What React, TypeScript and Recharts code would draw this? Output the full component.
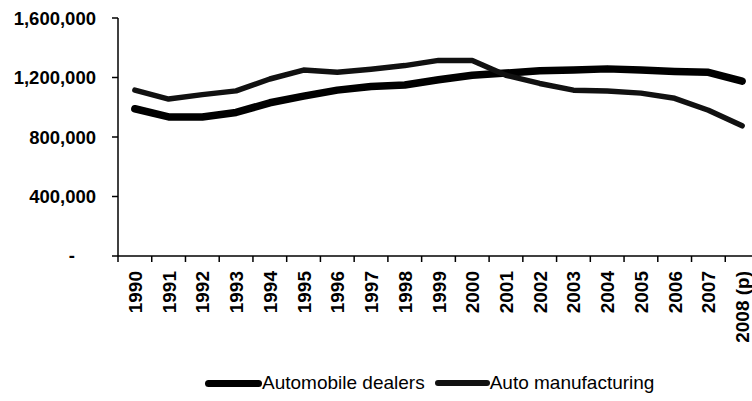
import React from "react";
import { LineChart, Line, XAxis, YAxis, Legend } from "recharts";

const years = [
  "1990", "1991", "1992", "1993", "1994", "1995", "1996", "1997", "1998", "1999",
  "2000", "2001", "2002", "2003", "2004", "2005", "2006", "2007", "2008 (p)",
];
const dealers = [
  990000, 935000, 935000, 965000, 1030000, 1075000, 1115000, 1140000, 1150000, 1185000,
  1215000, 1230000, 1245000, 1250000, 1258000, 1250000, 1240000, 1235000, 1175000,
];
const manufacturing = [
  1115000, 1055000, 1085000, 1110000, 1190000, 1250000, 1235000, 1255000, 1280000, 1315000,
  1315000, 1215000, 1160000, 1115000, 1110000, 1095000, 1060000, 980000, 875000,
];
const yTicks = [0, 400000, 800000, 1200000, 1600000];
const seriesNames = ["Automobile dealers", "Auto manufacturing"];

const data = years.map((y, i) => ({
  year: y,
  dealers: dealers[i],
  manufacturing: manufacturing[i],
}));

const FONT = "'Liberation Sans', Arial, sans-serif";
const CHART_W = 770;
const CHART_H = 401;
const MARGIN = { top: 18, right: 11, left: 0, bottom: 3 };
const Y_W = 118;
const HALF_BAND = (CHART_W - MARGIN.right - MARGIN.left - Y_W) / years.length / 2;

const fmt = (v: number) => v.toLocaleString("en-US");

const YTick = (props: any) => {
  const { x, y, payload } = props;
  const v = payload.value;
  if (v === 0) {
    return (
      <text x={x - 21} y={y} dy="0.35em" textAnchor="end" fontFamily={FONT} fontWeight="bold" fontSize={18.5} fill="#000">
        -
      </text>
    );
  }
  return (
    <text x={x} y={y} dy="0.36em" textAnchor="end" fontFamily={FONT} fontWeight="bold" fontSize={18.5} fill="#000">
      {fmt(v)}
    </text>
  );
};

const XTick = (props: any) => {
  const { x, y, payload } = props;
  const axisY = y - 15;
  const tx = x + 7;
  const ty = y;
  return (
    <g>
      <line x1={x - HALF_BAND} x2={x - HALF_BAND} y1={axisY} y2={axisY + 6} stroke="#000" strokeWidth={1.5} />
      <text
        x={tx}
        y={ty}
        textAnchor="end"
        transform={`rotate(-90, ${tx}, ${ty})`}
        fontFamily={FONT}
        fontWeight="bold"
        fontSize={19}
        fill="#000"
      >
        {payload.value}
      </text>
    </g>
  );
};

const LegendContent = () => (
  <div
    style={{
      display: "flex",
      alignItems: "center",
      height: 30,
      paddingLeft: 205,
      fontFamily: FONT,
      fontSize: 19,
      color: "#000",
      whiteSpace: "nowrap",
    }}
  >
    <span style={{ display: "inline-block", width: 57, height: 7, background: "#000", borderRadius: 3.5 }} />
    <span style={{ marginRight: 10 }}>{seriesNames[0]}</span>
    <span style={{ display: "inline-block", width: 55, height: 6, background: "#111", borderRadius: 3 }} />
    <span>{seriesNames[1]}</span>
  </div>
);

export default function App() {
  return (
    <div style={{ position: "absolute", left: 0, top: 0, width: 752, height: 401, overflow: "hidden", background: "#fff" }}>
      <LineChart width={CHART_W} height={CHART_H} data={data} margin={MARGIN}>
        <XAxis
          dataKey="year"
          scale="band"
          interval={0}
          height={112}
          tickLine={false}
          tickMargin={0}
          tickSize={15}
          axisLine={{ stroke: "#000", strokeWidth: 1.5 }}
          tick={<XTick />}
        />
        <YAxis
          width={Y_W}
          domain={[0, 1600000]}
          ticks={yTicks}
          interval={0}
          tickSize={6}
          tickMargin={16}
          tickLine={{ stroke: "#000", strokeWidth: 1.5 }}
          axisLine={{ stroke: "#000", strokeWidth: 1.5 }}
          tick={<YTick />}
        />
        <Legend verticalAlign="bottom" content={<LegendContent />} />
        <Line
          type="linear"
          dataKey="dealers"
          name={seriesNames[0]}
          stroke="#000"
          strokeWidth={7.5}
          strokeLinecap="round"
          strokeLinejoin="round"
          dot={false}
          isAnimationActive={false}
        />
        <Line
          type="linear"
          dataKey="manufacturing"
          name={seriesNames[1]}
          stroke="#111"
          strokeWidth={5.5}
          strokeLinecap="round"
          strokeLinejoin="round"
          dot={false}
          isAnimationActive={false}
        />
      </LineChart>
    </div>
  );
}
